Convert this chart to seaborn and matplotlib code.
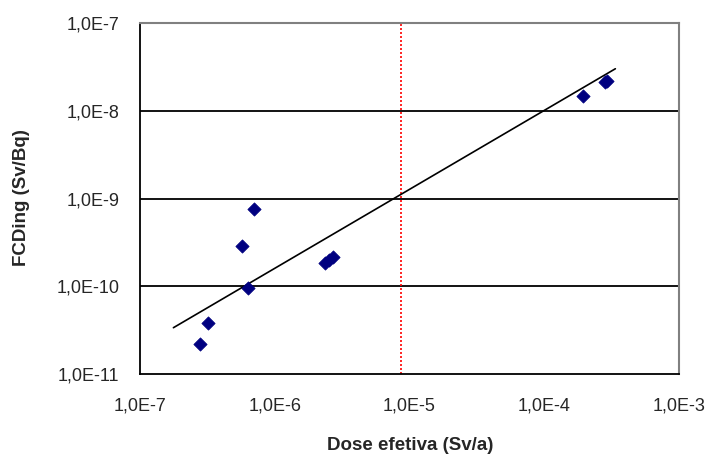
import matplotlib
matplotlib.use("Agg")
import matplotlib.pyplot as plt
import seaborn as sns
import pandas as pd
from matplotlib.ticker import FixedLocator, FixedFormatter, NullLocator

# Data
dose = [2.77e-7, 3.18e-7, 5.74e-7, 6.3e-7, 7.0e-7, 2.36e-6, 2.52e-6, 2.69e-6, 1.95e-4, 2.8e-4, 2.9e-4]
fcding = [2.2e-11, 3.85e-11, 2.88e-10, 9.5e-11, 7.6e-10, 1.85e-10, 2.0e-10, 2.14e-10, 1.49e-8, 2.1e-8, 2.2e-8]
trend_x = [1.77e-7, 3.37e-4]
trend_y = [3.37e-11, 3.01e-8]
ref_dose = 8.6e-6
x_ticks = [1e-7, 1e-6, 1e-5, 1e-4, 1e-3]
x_labels = ["1,0E-7", "1,0E-6", "1,0E-5", "1,0E-4", "1,0E-3"]
y_ticks = [1e-11, 1e-10, 1e-9, 1e-8, 1e-7]
y_labels = ["1,0E-11", "1,0E-10", "1,0E-9", "1,0E-8", "1,0E-7"]
x_title = "Dose efetiva (Sv/a)"
y_title = "FCDing (Sv/Bq)"

sns.set_style("white")
plt.rcParams['font.family'] = ['Liberation Sans', 'DejaVu Sans']

fig = plt.figure(figsize=(7.12, 4.57), dpi=100)
ax = fig.add_axes([140/712, 1-374/457, (679-140)/712, (374-23)/457])
ax.set_xscale("log")
ax.set_yscale("log")
ax.set_xlim(x_ticks[0], x_ticks[-1])
ax.set_ylim(y_ticks[0], y_ticks[-1])

for yv in y_ticks[1:-1]:
    ax.axhline(yv, color="black", lw=1.3, zorder=1)

ax.axvline(ref_dose, color="red", lw=1.2, ls=(0, (1.2, 1.2)), zorder=2)

tdf = pd.DataFrame({"x": trend_x, "y": trend_y})
sns.lineplot(data=tdf, x="x", y="y", ax=ax, color="black", lw=1.2, zorder=3)

df = pd.DataFrame({"x": dose, "y": fcding})
sns.scatterplot(data=df, x="x", y="y", ax=ax, marker="D", s=46, color="#000080",
                edgecolor="#000080", linewidth=0.5, zorder=4)

ax.xaxis.set_major_locator(FixedLocator(x_ticks))
ax.xaxis.set_major_formatter(FixedFormatter(x_labels))
ax.yaxis.set_major_locator(FixedLocator(y_ticks))
ax.yaxis.set_major_formatter(FixedFormatter(y_labels))
ax.xaxis.set_minor_locator(NullLocator())
ax.yaxis.set_minor_locator(NullLocator())
ax.tick_params(axis="both", which="major", direction="out", length=6, width=1.2,
               color="black", labelsize=13, pad=9)
ax.tick_params(axis="x", pad=11)

for side in ["left", "bottom"]:
    ax.spines[side].set_color("black")
    ax.spines[side].set_linewidth(1.3)
for side in ["top", "right"]:
    ax.spines[side].set_color("#808080")
    ax.spines[side].set_linewidth(1.5)

ax.set_xlabel(x_title, fontsize=13.5, fontweight="bold")
ax.set_ylabel(y_title, fontsize=13.5, fontweight="bold")
ax.xaxis.set_label_coords((410-140)/539, (374-446)/351)
ax.xaxis.label.set_va("center")
ax.yaxis.set_label_coords((22-140)/539, (374-198)/351)
ax.yaxis.label.set_va("center")

fig.savefig("out.png", dpi=100)
